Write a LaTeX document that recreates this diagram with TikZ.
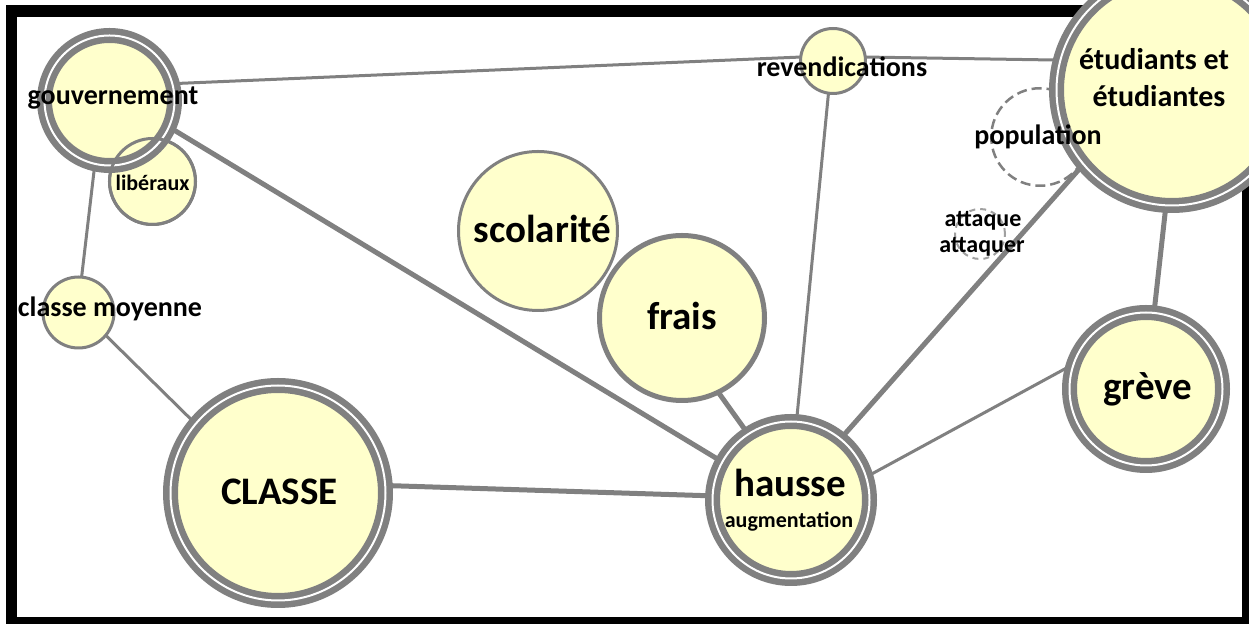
\documentclass[tikz,border=0pt]{standalone}
\usepackage{fontspec}
\setmainfont{Carlito}
\pgfdeclarelayer{frame}
\pgfdeclarelayer{edges}
\pgfsetlayers{frame,edges,main}
\definecolor{nodefill}{HTML}{FFFFCC}
\definecolor{ringgray}{HTML}{808080}
\newcommand\txtsize[1]{\fontsize{#1pt}{#1pt}\selectfont}
\tikzset{
  every node/.style={inner sep=0pt, outer sep=0pt},
  ring/.style={circle, draw=ringgray, fill=nodefill, line width=3.25pt,
               double=white, double distance=1pt},
  disc/.style={circle, draw=ringgray, fill=nodefill, line width=1.5pt},
  dashring/.style={circle, draw=ringgray, line width=1.25pt,
                   dash pattern=on 5pt off 2.5pt},
  smalldash/.style={circle, draw=ringgray!75, line width=1pt,
                    dash pattern=on 3pt off 2.5pt},
  word/.style={anchor=base, text=black, font=\bfseries},
  thinlink/.style={draw=ringgray, line width=1.5pt},
  thicklink/.style={draw=ringgray, line width=2.5pt},
}
\begin{document}
\begin{tikzpicture}[x=0.5pt, y=-0.5pt]
\useasboundingbox (0,0) rectangle (1249,624);
\clip (0,0) rectangle (1249,624);

% black frame
\begin{pgfonlayer}{frame}
  \fill[white] (0,0) rectangle (1249,624);
  \fill[black] (6,5) rectangle (1249,624);
  \fill[white] (17,17) rectangle (1242,617);
\end{pgfonlayer}

% concept circles
\node[disc, minimum size=43pt] (lib) at (152.5,181.5) {};
\node[ring, minimum size=65pt] (gouv) at (109.5,100.5) {};
\draw[ringgray, line width=1.5pt] (lib.center) circle[radius=21.5pt];
\node[disc, minimum size=35.5pt] (cm) at (78.5,312.5) {};
\node[ring, minimum size=107.5pt] (classe) at (278,493) {};
\node[disc, minimum size=79.5pt] (scol) at (538,231) {};
\node[disc, line width=2.5pt, minimum size=82.5pt] (frais) at (682,318) {};
\node[ring, minimum size=78.5pt] (hausse) at (791,500) {};
\node[disc, minimum size=32.5pt] (rev) at (833,61) {};
\node[dashring, minimum size=48.75pt] (pop) at (1040,137) {};
\node[smalldash, minimum size=25pt] (att) at (980,234) {};
\node[ring, minimum size=115.5pt] (etud) at (1172,90) {};
\node[ring, minimum size=76.5pt] (greve) at (1146,389) {};

% links between concepts
\begin{pgfonlayer}{edges}
  \draw[thinlink] (gouv.15) -- (rev.173);
  \draw[thinlink] (rev.7) -- (etud.165);
  \draw[thinlink] (gouv.257) -- (cm.85);
  \draw[thinlink] (cm.320) -- (classe.140);
  \draw[thicklink] (gouv.336) -- (hausse.151);
  \draw[thicklink] (classe.4) -- (hausse.177);
  \draw[thicklink] (frais.296) -- (hausse.123);
  \draw[thinlink] (rev.262) -- (hausse.86);
  \draw[thicklink] (etud.220) -- (hausse.51);
  \draw[thicklink] (etud.267) -- (greve.84);
  \draw[thinlink] (hausse.17) -- (greve.161);
\end{pgfonlayer}

% labels
\node[word, font=\bfseries\txtsize{14}] (tgouv) at (113,104.5) {gouvernement};
\node[word, font=\bfseries\txtsize{11}] (tlib) at (152.5,191) {libéraux};
\node[word, font=\bfseries\txtsize{14}] (tcm) at (110,317) {classe moyenne};
\node[word, font=\bfseries\txtsize{19.5}] (tclasse) at (279.5,505) {CLASSE};
\node[word, font=\bfseries\txtsize{19.5}] (tscol) at (542.5,243) {scolarité};
\node[word, font=\bfseries\txtsize{19.5}] (tfrais) at (682,330) {frais};
\node[word, font=\bfseries\txtsize{19.5}] (thausse) at (790,497) {hausse};
\node[word, font=\bfseries\txtsize{11}] (taug) at (789,528) {augmentation};
\node[word, font=\bfseries\txtsize{14}] (trev) at (842,76.5) {revendications};
\node[word, font=\bfseries\txtsize{15}] (tetud1) at (1154,70) {étudiants et};
\node[word, font=\bfseries\txtsize{15}] (tetud2) at (1159,106.5) {étudiantes};
\node[word, font=\bfseries\txtsize{14}] (tpop) at (1038,145) {population};
\node[word, font=\bfseries\txtsize{12}] (tatt1) at (983,226.5) {attaque};
\node[word, font=\bfseries\txtsize{12}] (tatt2) at (982,253) {attaquer};
\node[word, font=\bfseries\txtsize{19.5}] (tgreve) at (1148,400) {grève};
\end{tikzpicture}
\end{document}
